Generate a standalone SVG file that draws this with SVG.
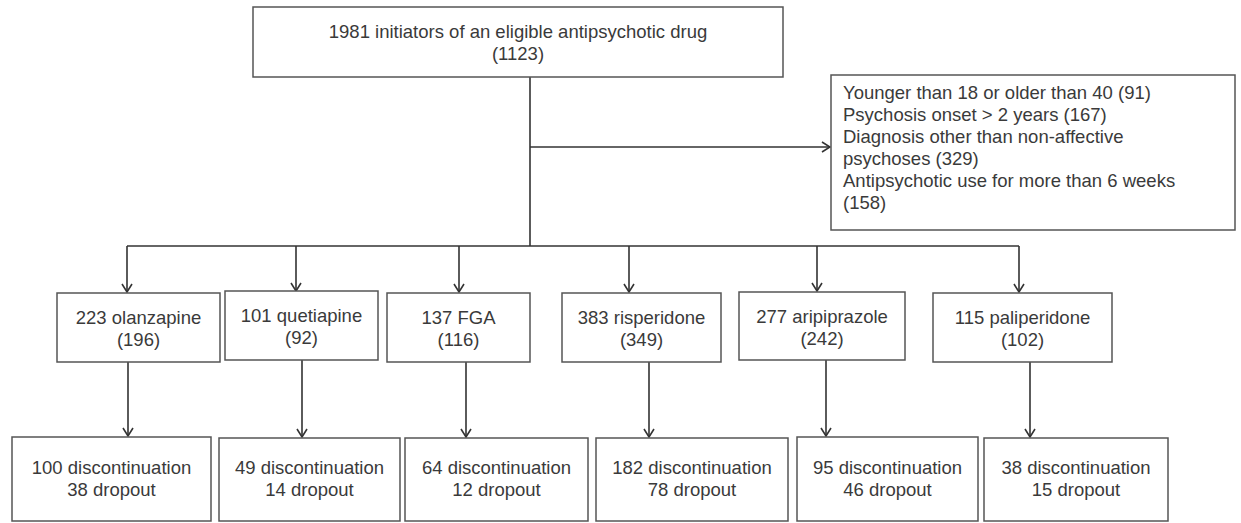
<svg xmlns="http://www.w3.org/2000/svg" width="1241" height="523" viewBox="0 0 1241 523">
<defs>
<marker id="arr" markerWidth="10" markerHeight="12" refX="9" refY="6" orient="auto" markerUnits="userSpaceOnUse" viewBox="0 0 10 12">
<polyline points="1,1 9,6 1,11" fill="none" stroke="#333" stroke-width="1.6"/>
</marker>
</defs>
<style>
.box{fill:#fff;stroke:#555;stroke-width:1.5}
.t{font-family:"Liberation Sans",Arial,sans-serif;font-size:18.5px;fill:#3a3a3a}
.c{text-anchor:middle}
.ln{fill:none;stroke:#333;stroke-width:1.6}
</style>
<rect width="1241" height="523" fill="#fff"/>
<g id="connectors">
<line class="ln" x1="530" y1="77" x2="530" y2="246"/>
<line class="ln" x1="530" y1="147" x2="830" y2="147" marker-end="url(#arr)"/>
<line class="ln" x1="127" y1="246" x2="1019" y2="246"/>
<line class="ln" x1="127" y1="246" x2="127" y2="292" marker-end="url(#arr)"/>
<line class="ln" x1="296" y1="246" x2="296" y2="291" marker-end="url(#arr)"/>
<line class="ln" x1="459" y1="246" x2="459" y2="292" marker-end="url(#arr)"/>
<line class="ln" x1="629" y1="246" x2="629" y2="292" marker-end="url(#arr)"/>
<line class="ln" x1="817" y1="246" x2="817" y2="291" marker-end="url(#arr)"/>
<line class="ln" x1="1019" y1="246" x2="1019" y2="292" marker-end="url(#arr)"/>
<line class="ln" x1="128" y1="362" x2="128" y2="436" marker-end="url(#arr)"/>
<line class="ln" x1="302" y1="360" x2="302" y2="437" marker-end="url(#arr)"/>
<line class="ln" x1="466" y1="362" x2="466" y2="437" marker-end="url(#arr)"/>
<line class="ln" x1="649" y1="362" x2="649" y2="437" marker-end="url(#arr)"/>
<line class="ln" x1="826" y1="360" x2="826" y2="436" marker-end="url(#arr)"/>
<line class="ln" x1="1030" y1="362" x2="1030" y2="437" marker-end="url(#arr)"/>
</g>
<g id="n-top">
<rect class="box" x="253" y="7" width="530" height="70"/>
<text class="t c" x="518" y="38">1981 initiators of an eligible antipsychotic drug</text>
<text class="t c" x="518" y="60">(1123)</text>
</g>
<g id="n-excluded">
<rect class="box" x="831" y="75" width="404" height="155"/>
<text class="t" x="843" y="99">Younger than 18 or older than 40 (91)</text>
<text class="t" x="843" y="121">Psychosis onset &gt; 2 years (167)</text>
<text class="t" x="843" y="143">Diagnosis other than non-affective</text>
<text class="t" x="843" y="165">psychoses (329)</text>
<text class="t" x="843" y="187">Antipsychotic use for more than 6 weeks</text>
<text class="t" x="843" y="209">(158)</text>
</g>
<g id="n-olanzapine">
<rect class="box" x="57" y="293" width="163" height="69"/>
<text class="t c" x="138.5" y="324">223 olanzapine</text>
<text class="t c" x="138.5" y="346">(196)</text>
</g>
<g id="n-quetiapine">
<rect class="box" x="225" y="291" width="153" height="69"/>
<text class="t c" x="301.5" y="322">101 quetiapine</text>
<text class="t c" x="301.5" y="344">(92)</text>
</g>
<g id="n-fga">
<rect class="box" x="387" y="293" width="143" height="69"/>
<text class="t c" x="458.5" y="324">137 FGA</text>
<text class="t c" x="458.5" y="346">(116)</text>
</g>
<g id="n-risperidone">
<rect class="box" x="562" y="293" width="159" height="69"/>
<text class="t c" x="641.5" y="324">383 risperidone</text>
<text class="t c" x="641.5" y="346">(349)</text>
</g>
<g id="n-aripiprazole">
<rect class="box" x="739" y="292" width="166" height="68"/>
<text class="t c" x="822" y="323">277 aripiprazole</text>
<text class="t c" x="822" y="345">(242)</text>
</g>
<g id="n-paliperidone">
<rect class="box" x="933" y="293" width="179" height="69"/>
<text class="t c" x="1022.5" y="324">115 paliperidone</text>
<text class="t c" x="1022.5" y="346">(102)</text>
</g>
<g id="d-olanzapine">
<rect class="box" x="12" y="437" width="199" height="84"/>
<text class="t c" x="111.5" y="474">100 discontinuation</text>
<text class="t c" x="111.5" y="496">38 dropout</text>
</g>
<g id="d-quetiapine">
<rect class="box" x="219" y="438" width="181" height="83"/>
<text class="t c" x="309.5" y="474">49 discontinuation</text>
<text class="t c" x="309.5" y="496">14 dropout</text>
</g>
<g id="d-fga">
<rect class="box" x="405" y="438" width="183" height="83"/>
<text class="t c" x="496.5" y="474">64 discontinuation</text>
<text class="t c" x="496.5" y="496">12 dropout</text>
</g>
<g id="d-risperidone">
<rect class="box" x="596" y="438" width="192" height="83"/>
<text class="t c" x="692" y="474">182 discontinuation</text>
<text class="t c" x="692" y="496">78 dropout</text>
</g>
<g id="d-aripiprazole">
<rect class="box" x="797" y="437" width="181" height="84"/>
<text class="t c" x="887.5" y="474">95 discontinuation</text>
<text class="t c" x="887.5" y="496">46 dropout</text>
</g>
<g id="d-paliperidone">
<rect class="box" x="984" y="438" width="184" height="83"/>
<text class="t c" x="1076" y="474">38 discontinuation</text>
<text class="t c" x="1076" y="496">15 dropout</text>
</g>
</svg>
